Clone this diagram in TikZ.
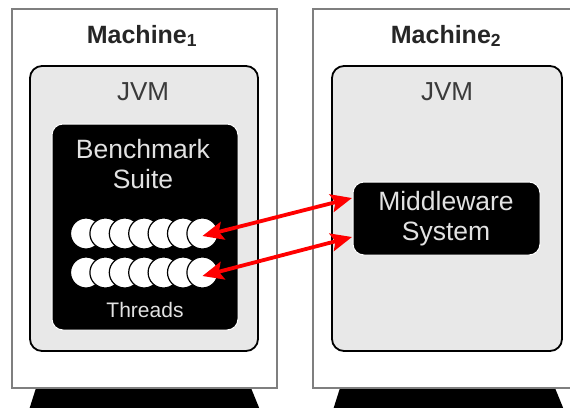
\documentclass[tikz,border=0pt]{standalone}
\usepackage{fontspec}
\setmainfont{Liberation Sans}
\usetikzlibrary{arrows.meta,calc}
\definecolor{machineedge}{HTML}{7F7F7F}
\definecolor{jvmfill}{HTML}{E8E8E8}
\definecolor{softwhite}{HTML}{E2E2E2}
\definecolor{darktext}{HTML}{3A3A3A}
\tikzset{
  machinebox/.style={draw=machineedge, line width=2pt, fill=white, inner sep=0pt},
  jvmbox/.style={draw=black, line width=1.8pt, fill=jvmfill, rounded corners=12pt, inner sep=0pt},
  blackbox/.style={draw=white, line width=1pt, fill=black, rounded corners=11pt, inner sep=0pt},
  titletext/.style={font=\fontsize{25}{28}\selectfont\bfseries, text=black!85},
  jvmtext/.style={font=\fontsize{26}{28}\selectfont, text=darktext},
  wtext/.style={font=\fontsize{26.5}{30}\selectfont, text=softwhite, align=center},
  threadtext/.style={font=\fontsize{21}{24}\selectfont, text=softwhite},
  thread/.style={circle, draw=black, line width=1.2pt, fill=white, minimum size=31pt, inner sep=0pt},
  stand/.style={fill=black},
  link/.style={draw=red, line width=3.8pt,
    {Stealth[length=21pt,width=18pt,inset=4pt]}-{Stealth[length=21pt,width=18pt,inset=4pt]}}
}
\begin{document}
\begin{tikzpicture}[x=1pt,y=-1pt]
\useasboundingbox (0,0) rectangle (570,407);
\clip (0,0) rectangle (570,407);

% stands under the two machines
\fill[stand] (36,388) -- (251,388) -- (260,410) -- (29,410) -- cycle;
\fill[stand] (340,388) -- (555,388) -- (564,410) -- (333,410) -- cycle;

% machine cases
\node[machinebox, minimum width=265pt, minimum height=379pt] (m1) at (144.5,198.5) {};
\node[machinebox, minimum width=265pt, minimum height=379pt] (m2) at (445.5,198.5) {};
\node[titletext] (m1t) at (142,36) {Machine\textsubscript{1}};
\node[titletext] (m2t) at (446,36) {Machine\textsubscript{2}};

% virtual machines
\node[jvmbox, minimum width=228pt, minimum height=285pt] (j1) at (144,208.5) {};
\node[jvmbox, minimum width=230pt, minimum height=285pt] (j2) at (447,208.5) {};
\node[jvmtext] (j1t) at (143,92) {JVM};
\node[jvmtext] (j2t) at (447,92) {JVM};

% benchmark suite with its threads
\node[blackbox, minimum width=186pt, minimum height=206pt] (bs) at (145,227) {};
\node[wtext] (bst) at (143,164) {Benchmark\\Suite};
\foreach \i in {1,...,7} {
  \node[thread] (ta\i) at ({86+19.4*(\i-1)},233.5) {};
}
\foreach \i in {1,...,7} {
  \node[thread] (tb\i) at ({86+19.4*(\i-1)},272.5) {};
}
\node[threadtext] (tht) at (145,310) {Threads};

% middleware
\node[blackbox, minimum width=187pt, minimum height=73pt] (mw) at (446.5,218.5) {};
\node[wtext] (mwt) at (446,219) {Middleware\\System};

% connections between threads and middleware
\coordinate (mwa) at (352,198);
\coordinate (mwb) at (352,237);
\draw[link] ($(ta7.center)+(0,2.5)$) -- (mwa);
\draw[link] ($(tb7.center)+(0,3.5)$) -- (mwb);
\end{tikzpicture}
\end{document}
